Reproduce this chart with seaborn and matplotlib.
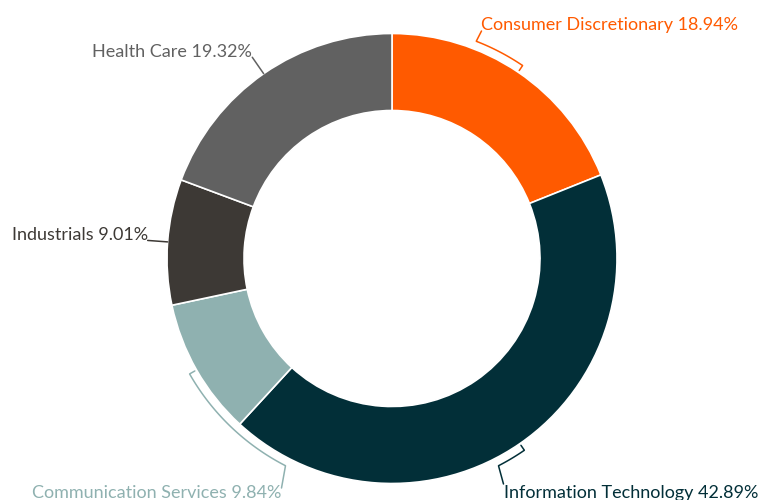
import numpy as np
import matplotlib
matplotlib.use("Agg")
import matplotlib.pyplot as plt
import seaborn as sns

sectors = ["Consumer Discretionary", "Information Technology",
           "Communication Services", "Industrials", "Health Care"]
weights = [18.94, 42.89, 9.84, 9.01, 19.32]
colors = ["#ff5a00", "#022f38", "#8fb1b0", "#3d3935", "#616161"]

sns.set_theme(style="white")
plt.rcParams["font.family"] = ["Lato", "DejaVu Sans"]

W, H = 763, 500
fig = plt.figure(figsize=(W / 100, H / 100), dpi=100)
ax = fig.add_axes([0, 0, 1, 1])
ax.set_aspect("equal")
ax.axis("off")

cx, cy = 392, H - 258.5
R, r_in = 225, 148

ax.pie(weights, colors=colors, startangle=90, counterclock=False,
       radius=R, center=(cx, cy),
       wedgeprops=dict(width=R - r_in, edgecolor="white", linewidth=1.2))
ax.set_xlim(0, W)
ax.set_ylim(0, H)


def img(x, y):
    return x, H - y


def polar(ang, rad):
    a = np.deg2rad(ang)
    return cx + rad * np.cos(a), cy + rad * np.sin(a)


# middle angle of each slice (degrees, counter-clockwise from +x)
ends = 90 - 3.6 * np.cumsum(weights)
starts = ends + 3.6 * np.array(weights)
mids = (starts + ends) / 2

lw = 1.1
fs = 13


def bracket(i, ang_to, end_xy):
    a = np.linspace(mids[i], ang_to, 60)
    xs, ys = polar(a, 233)
    ax.plot(xs, ys, color=colors[i], lw=lw, solid_capstyle="butt")
    tx, ty = zip(polar(mids[i], 227), polar(mids[i], 233))
    ax.plot(tx, ty, color=colors[i], lw=lw)
    ex, ey = img(*end_xy)
    ax.plot([xs[-1], ex], [ys[-1], ey], color=colors[i], lw=lw)


def radial(i):
    x0, y0 = polar(mids[i], 225)
    x1, y1 = polar(mids[i], 245)
    ax.plot([x0, x1], [y0, y1], color=colors[i], lw=lw)
    return x1, y1


def label(i, xy, ha):
    x, y = img(*xy)
    ax.text(x, y, f"{sectors[i]} {weights[i]:.2f}%", color=colors[i],
            fontsize=fs, ha=ha, va="baseline")


# Consumer Discretionary
bracket(0, 68.8, (481.5, 31))
label(0, (481, 30), "left")
# Information Technology
bracket(1, -62.8, (503.5, 484))
label(1, (504, 498), "left")
# Communication Services
bracket(2, -117.2, (281.5, 488))
label(2, (281, 498), "right")
# Industrials
x1, y1 = radial(3)
ax.text(x1, y1, f"{sectors[3]} {weights[3]:.2f}%", color=colors[3],
        fontsize=fs, ha="right", va="baseline")
# Health Care
x1, y1 = radial(4)
ax.text(x1, y1, f"{sectors[4]} {weights[4]:.2f}%", color=colors[4],
        fontsize=fs, ha="right", va="baseline")

fig.savefig("out.png", dpi=100)
